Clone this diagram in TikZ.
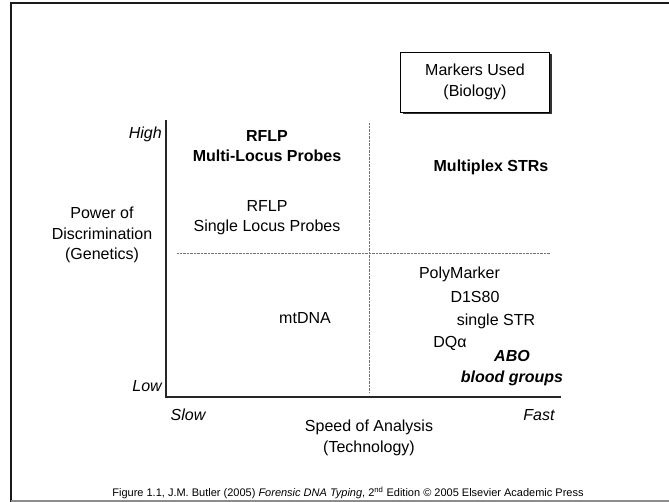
\documentclass[tikz,border=0pt]{standalone}
\usepackage{fontspec}
\setmainfont{Liberation Sans}
\usetikzlibrary{shadows}

\begin{document}
\begin{tikzpicture}[x=1pt,y=-1pt,
	lbl/.style={font=\fontsize{16}{20.5}\selectfont, align=center, inner sep=0pt},
	lblb/.style={lbl, font=\fontsize{16}{20.5}\selectfont\bfseries},
	lbli/.style={lbl, font=\fontsize{16}{20.5}\selectfont\itshape},
	lblbi/.style={lbl, font=\fontsize{16}{20.5}\selectfont\bfseries\itshape},
	axis/.style={black!85, line width=1.5pt},
	dotline/.style={black!55, line width=0.6pt, dash pattern=on 0.7pt off 0.7pt}]
	\useasboundingbox (0,0) rectangle (669,502);
	\draw[black!90, line width=2pt] (11,502) -- (11,3) -- (669,3);
	\draw[black!45, line width=1.5pt] (11,501.2) -- (669,501.2);
	\node[lbl, draw, fill=white, minimum width=149pt, minimum height=60pt,
		drop shadow={opacity=1, fill=black!80, shadow xshift=2pt, shadow yshift=-2pt}] (markers) at (475,82) {Markers Used\\(Biology)};
	\coordinate (ytop) at (166,120);
	\coordinate (o) at (166,397);
	\coordinate (xend) at (561,397);
	\coordinate (vtop) at (369,123);
	\coordinate (vbot) at (369,392);
	\coordinate (hl) at (177,253);
	\coordinate (hr) at (550,253);
	\draw[dotline] (vtop) -- (vbot);
	\draw[dotline] (hl) -- (hr);
	\draw[axis] (ytop) -- (o) -- (xend);
	\node[lbli, anchor=east] (high) at (162,134) {High};
	\node[lbli, anchor=east] (low) at (162,386) {Low};
	\node[lbli] (slow) at (188,415) {Slow};
	\node[lbli] (fast) at (539,415) {Fast};
	\node[lbl] (power) at (102,235) {Power of\\Discrimination\\(Genetics)};
	\node[lbl] (speed) at (369,438) {Speed of Analysis\\(Technology)};
	\node[lblb] (rflpmulti) at (267,146) {RFLP\\Multi-Locus Probes};
	\node[lblb] (multiplex) at (491,167) {Multiplex STRs};
	\node[lbl] (rflpsingle) at (267,217.5) {RFLP\\Single Locus Probes};
	\node[lbl] (mtdna) at (305,318) {mtDNA};
	\node[lbl] (poly) at (459.5,274) {PolyMarker};
	\node[lbl] (d1s80) at (475,297) {D1S80};
	\node[lbl] (sstr) at (496,321) {single STR};
	\node[lbl] (dqa) at (450,343) {DQα};
	\node[lblbi] (abo) at (512,368) {ABO\\blood groups};
	\node[font=\fontsize{11}{13}\selectfont, inner sep=0pt] (caption) at (348,493)
		{Figure 1.1, J.M. Butler (2005) \textit{Forensic DNA Typing}, 2\textsuperscript{nd} Edition © 2005 Elsevier Academic Press};
\end{tikzpicture}
\end{document}
